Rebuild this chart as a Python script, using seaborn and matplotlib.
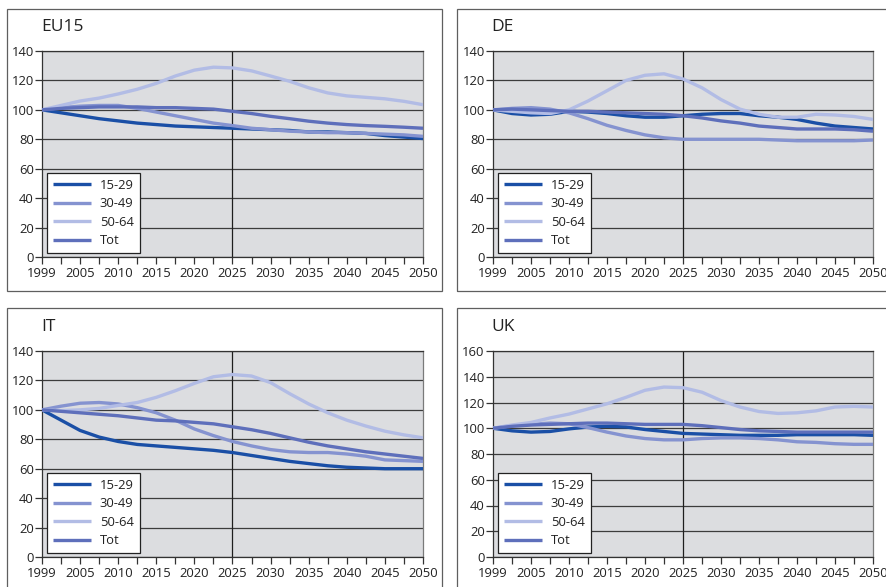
import numpy as np
import pandas as pd
import matplotlib
matplotlib.use("Agg")
import matplotlib.pyplot as plt
from matplotlib.patches import Rectangle
import seaborn as sns

# ---- data -------------------------------------------------------------
year_labels = ["1999", "2005", "2010", "2015", "2020", "2025",
               "2030", "2035", "2040", "2045", "2050"]
groups = ["15-29", "30-49", "50-64", "Tot"]
group_colors = ["#1a4fa6", "#8593d0", "#b2bce5", "#5e6fbb"]

# one value per half-step of the category axis (21 points, 1999 .. 2050)
eu15_15_29 = [100, 98, 96, 94, 92.5, 91, 90, 89, 88.5, 88, 87.5, 87, 86.5, 86, 85, 85, 84.5, 84, 82.5, 81.5, 80.5]
eu15_30_49 = [100, 101.5, 102.5, 103, 103, 101, 98.5, 96, 93.5, 91, 89.3, 87.5, 86.5, 85.5, 85, 84.5, 84.5, 84, 83.5, 83, 82]
eu15_50_64 = [100, 103, 106, 108, 110.8, 114, 118, 123, 127, 129, 128.5, 126.5, 123, 119.4, 115, 111.5, 109.5, 108.5, 107.5, 105.8, 103.5]
eu15_tot = [100, 101, 101.5, 102, 102, 102, 101.5, 101.5, 101, 100.5, 99, 97.5, 95.6, 94, 92.3, 91, 90, 89.3, 88.8, 88.2, 87.5]

de_15_29 = [100, 97.5, 96.5, 97, 99, 98.5, 97.5, 96, 95, 95, 96, 97, 97.5, 97.5, 96, 95, 93.5, 91, 89, 88, 87]
de_30_49 = [100, 101, 101.5, 100.5, 98, 94, 89.5, 86, 83, 81, 80, 80, 80, 80, 80, 79.5, 79, 79, 79, 79, 79.5]
de_50_64 = [100, 99, 98, 97.5, 100, 106, 113, 120, 123.5, 124.5, 121, 115, 107, 100.5, 97, 95, 95, 97, 96.5, 95.5, 93.5]
de_tot = [100, 100.5, 100, 99.5, 99, 99, 98.5, 98, 97.5, 97, 96, 94.5, 92.5, 91, 89, 88, 87, 87, 87, 86.5, 85.5]

it_15_29 = [100, 93, 86, 81.5, 78.5, 76.5, 75.5, 74.5, 73.5, 72.5, 71, 69, 67, 65, 63.5, 62, 61, 60.5, 60, 60, 60]
it_30_49 = [100, 102.5, 104.5, 105, 104, 101.5, 98, 93, 87, 82.5, 78.5, 75.5, 73, 71.5, 71, 71, 70, 68.5, 66, 65.5, 65]
it_50_64 = [100, 99.5, 100, 101, 103, 105, 108.5, 113, 118, 122.5, 124, 123, 118.5, 111, 104, 98, 93, 89, 85.5, 83, 81]
it_tot = [100, 99, 98, 97, 96, 94.5, 93, 92.5, 91.5, 90.5, 88.5, 86.5, 84, 81, 78, 75.5, 73.5, 71.5, 70, 68.5, 67]

uk_15_29 = [100, 98, 97, 97.5, 99.5, 101, 101.5, 101, 99, 97.5, 96, 95.5, 95, 94.5, 94.5, 94.5, 95, 95, 95, 95, 94.5]
uk_30_49 = [100, 102, 103, 104, 103.5, 100.5, 97, 94, 92, 91, 91, 92, 92.5, 92.5, 92, 91, 89.5, 89, 88, 87.5, 87.5]
uk_50_64 = [100, 102.5, 104.5, 108, 111, 115, 119, 124, 129.5, 132, 131.5, 128, 121.5, 116.5, 113, 111.5, 112, 113.5, 116.5, 117, 116.5]
uk_tot = [100, 101.5, 102.5, 103, 103.5, 104, 104, 103.5, 103, 103, 103, 102, 100.5, 99, 98, 97.5, 97, 97, 97, 97, 97]

panels = [
    ("EU15", [eu15_15_29, eu15_30_49, eu15_50_64, eu15_tot], 140),
    ("DE", [de_15_29, de_30_49, de_50_64, de_tot], 140),
    ("IT", [it_15_29, it_30_49, it_50_64, it_tot], 140),
    ("UK", [uk_15_29, uk_30_49, uk_50_64, uk_tot], 160),
]

# ---- style -------------------------------------------------------------
sns.set_theme(style="white")
plt.rcParams["font.family"] = ["Open Sans", "DejaVu Sans"]
plt.rcParams["axes.unicode_minus"] = False

W, H = 887, 587
fig = plt.figure(figsize=(W / 100, H / 100), dpi=100)
fig.patch.set_facecolor("white")


def fx(px):
    return px / W


def fy(py):
    return 1 - py / H


# panel geometry in pixels: (frame box, plot box, title anchor)
layout = [
    ((7, 9, 442, 291), (42, 51, 423, 257), (41, 27)),
    ((457, 9, 905, 291), (493, 51, 873, 257), (491, 27)),
    ((7, 308, 442, 605), (42, 351, 423, 557), (41, 327)),
    ((457, 308, 905, 605), (493, 351, 873, 557), (491, 327)),
]

positions = np.arange(21) * 0.5
palette = dict(zip(groups, group_colors))
label_size = 9.4

for (name, series, ymax), (frame, box, title_xy) in zip(panels, layout):
    # outer frame of the panel
    fx0, fy0, fx1, fy1 = frame
    fig.patches.append(Rectangle((fx(fx0), fy(fy1)), fx(fx1 - fx0), (fy1 - fy0) / H,
                                 transform=fig.transFigure, fill=False,
                                 edgecolor="#5f5f5f", linewidth=0.9, zorder=0))
    fig.text(fx(title_xy[0]), fy(title_xy[1]), name, fontsize=12.5,
             color="#222222", va="center", ha="left")

    x0, y0, x1, y1 = box
    ax = fig.add_axes([fx(x0), fy(y1), fx(x1 - x0), (y1 - y0) / H])
    ax.set_facecolor("#dcdde0")

    df = pd.DataFrame({
        "pos": np.tile(positions, len(groups)),
        "value": np.concatenate([np.asarray(s, dtype=float) for s in series]),
        "group": np.repeat(groups, len(positions)),
    })
    sns.lineplot(data=df, x="pos", y="value", hue="group", hue_order=groups,
                 palette=palette, linewidth=2.4, ax=ax, legend=False,
                 solid_capstyle="butt", solid_joinstyle="round", zorder=3)
    series_lines = ax.get_lines()[:len(groups)]

    ax.set_xlim(0, 10)
    ax.set_ylim(0, ymax)
    ax.set_yticks(np.arange(0, ymax + 1, 20))
    ax.set_xticks(np.arange(11))
    ax.set_xticklabels(year_labels)
    ax.set_xticks(np.arange(21) * 0.5, minor=True)
    ax.tick_params(axis="both", which="both", direction="out", color="#333333",
                   width=0.9, labelsize=label_size, labelcolor="#222222",
                   bottom=True, left=True)
    ax.tick_params(axis="x", which="both", length=5, pad=2)
    ax.tick_params(axis="y", length=5, pad=1)
    ax.set_xlabel("")
    ax.set_ylabel("")

    ax.grid(axis="y", color="#3c3c3c", linewidth=0.9, zorder=1)
    ax.grid(axis="x", visible=False)
    ax.set_axisbelow(True)
    ax.axvline(5, color="#1e1e1e", linewidth=0.9, zorder=2)

    for side in ("left", "bottom", "top"):
        ax.spines[side].set_color("#333333")
        ax.spines[side].set_linewidth(0.9)
    ax.spines["right"].set_color("#7a7a7a")
    ax.spines["right"].set_linewidth(0.9)

    leg = ax.legend(series_lines, groups, loc="lower left",
                    bbox_to_anchor=(5 / (x1 - x0), 4 / (y1 - y0)),
                    borderaxespad=0, frameon=True, fancybox=False,
                    edgecolor="#222222", facecolor="white", framealpha=1,
                    fontsize=label_size, handlelength=2.9, handletextpad=0.7,
                    labelspacing=0.42, borderpad=0.45)
    leg.get_frame().set_linewidth(0.9)
    leg.set_zorder(5)
    for t in leg.get_texts():
        t.set_color("#222222")

fig.savefig("out.png", dpi=100, facecolor="white")
